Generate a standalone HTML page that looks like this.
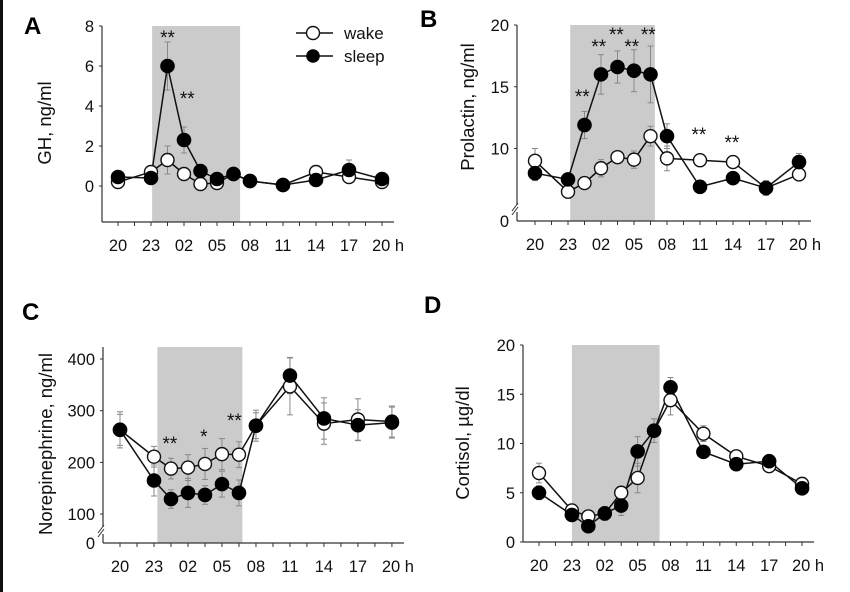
<!DOCTYPE html>
<html><head><meta charset="utf-8"><style>
html,body{margin:0;padding:0;background:#fff;}
svg{display:block;font-family:"Liberation Sans",Arial,sans-serif;}
</style></head><body>
<svg id="fig" width="850" height="592" viewBox="0 0 850 592" xmlns="http://www.w3.org/2000/svg">
<rect x="0" y="0" width="850" height="592" fill="#fff"/>
<rect x="0" y="0" width="3" height="592" fill="#111"/>
</svg>
<script>
const hours=[0,3,4.5,6,7.5,9,10.5,12,15,18,21,24];
const tickHours=[0,3,6,9,12,15,18,21,24];
const tickLabels=['20','23','02','05','08','11','14','17','20 h'];

const ghWake=[0.2,0.7,1.3,0.6,0.1,0.15,0.6,0.25,0.05,0.7,0.45,0.2];
const ghSleep=[0.45,0.4,6.0,2.3,0.75,0.35,0.6,0.25,0.05,0.3,0.8,0.35];
const ghWakeErr=[0.15,0.2,0.7,0.3,0.1,0.1,0.3,0.15,0.1,0.2,0.2,0.1];
const ghSleepErr=[0.2,0.2,1.2,0.65,0.2,0.15,0.3,0.15,0.1,0.2,0.5,0.15];
const ghTicks=[0,2,4,6,8];

const prlWake=[9.0,6.5,7.2,8.4,9.3,9.1,11.0,9.2,9.05,8.9,6.8,7.9];
const prlSleep=[8.0,7.5,11.9,16.0,16.6,16.3,16.0,11.0,6.9,7.6,6.8,8.9];
const prlWakeErr=[1.0,0.4,0.4,0.7,0.5,0.7,0.8,1.0,0.5,0.5,0.4,0.5];
const prlSleepErr=[0.6,0.3,1.1,1.6,1.3,1.7,2.3,1.0,0.3,0.5,0.6,0.7];
const prlTicks=[10,15,20];

const neWake=[263,211,188,190,197,216,215,271,347,275,283,279];
const neSleep=[263,165,129,141,137,158,141,271,368,285,272,277];
const neWakeErr=[30,20,20,25,30,30,25,25,55,40,40,30];
const neSleepErr=[35,30,18,28,18,25,25,30,35,40,30,30];
const neTicks=[100,200,300,400];

const corWake=[7.0,3.2,2.6,2.9,5.0,6.5,11.3,14.4,11.0,8.7,7.7,5.9];
const corSleep=[5.0,2.75,1.6,2.9,3.7,9.2,11.3,15.7,9.15,7.9,8.2,5.45];
const corWakeErr=[1.0,0.4,0.4,0.5,0.6,1.5,1.2,1.5,0.8,0.6,0.5,0.4];
const corSleepErr=[0.7,0.4,0.3,0.7,1.0,1.5,1.2,1.0,0.4,0.6,0.5,0.4];
const corTicks=[0,5,10,15,20];

const NS='http://www.w3.org/2000/svg';
const svg=document.getElementById('fig');
function mk(tag,attrs,parent,text){const e=document.createElementNS(NS,tag);for(const k in attrs)e.setAttribute(k,attrs[k]);if(text!==undefined)e.textContent=text;(parent||svg).appendChild(e);return e;}

function panel(cfg){
  const g=mk('g',{});
  
  
  const X=h=>cfg.x0+h*cfg.ppx;
  const Y=v=>cfg.vTopPx+(cfg.vmax-v)*cfg.k;
  const sh=mk('rect',{x:X(cfg.shade[0]),y:cfg.top,width:X(cfg.shade[1])-X(cfg.shade[0]),height:cfg.bottom-cfg.top,fill:'#cbcbcb'},g);
  
  
  const ya=mk('line',{x1:cfg.ax,y1:cfg.top,x2:cfg.ax,y2:cfg.bottom,stroke:'#333','stroke-width':1.2},g);
  
  
  const xa=mk('line',{x1:cfg.ax,y1:cfg.bottom,x2:X(24)+12,y2:cfg.bottom,stroke:'#333','stroke-width':1.2},g);
  
  
  for(let h=0;h<=24.01;h+=1.5){mk('line',{x1:X(h),y1:cfg.bottom,x2:X(h),y2:cfg.bottom+4,stroke:'#333','stroke-width':1},g);}
  tickHours.forEach((h,i)=>{
    const t=mk('text',{x:X(h)+(i===tickLabels.length-1?6:0),y:cfg.bottom+29,'font-size':16.5,'text-anchor':'middle',fill:'#111'},g,tickLabels[i]);
    
    
  });
  cfg.ticks.forEach(v=>{
    mk('line',{x1:cfg.ax-3,y1:Y(v),x2:cfg.ax,y2:Y(v),stroke:'#333'},g);
    const t=mk('text',{x:cfg.ax-8,y:Y(v)+6,'font-size':16.5,'text-anchor':'end',fill:'#111'},g,String(v));
    
    
  });
  if(cfg.broken){
    const t=mk('text',{x:cfg.ax-8,y:cfg.bottom+6,'font-size':16.5,'text-anchor':'end',fill:'#111'},g,'0');
    
    
    mk('rect',{x:cfg.ax-4,y:cfg.bottom-16,width:8,height:7,fill:'#fff'},g);
    mk('line',{x1:cfg.ax-5,y1:cfg.bottom-10,x2:cfg.ax+1,y2:cfg.bottom-18,stroke:'#333'},g);
    mk('line',{x1:cfg.ax-5,y1:cfg.bottom-6,x2:cfg.ax+1,y2:cfg.bottom-14,stroke:'#333'},g);
  }
  const yl=mk('text',{x:cfg.ylx,y:cfg.yly,'font-size':18.5,'text-anchor':'middle',fill:'#111',transform:`rotate(-90 ${cfg.ylx} ${cfg.yly})`},g,cfg.ylabel);
  
  
  const pl=mk('text',{x:cfg.lx,y:cfg.ly,'font-size':24,'font-weight':'bold',fill:'#000'},g,cfg.letter);
  
  
  [[cfg.wake,cfg.wakeErr],[cfg.sleep,cfg.sleepErr]].forEach(([vals,errs])=>{
    vals.forEach((v,i)=>{
      const x=X(hours[i]),y1=Y(v+errs[i]),y2=Y(v-errs[i]);
      mk('line',{x1:x,y1:y1,x2:x,y2:y2,stroke:'#888','stroke-width':1},g);
      mk('line',{x1:x-3,y1:y1,x2:x+3,y2:y1,stroke:'#888','stroke-width':1},g);
      mk('line',{x1:x-3,y1:y2,x2:x+3,y2:y2,stroke:'#888','stroke-width':1},g);
    });
  });
  const wl=mk('polyline',{points:cfg.wake.map((v,i)=>X(hours[i])+','+Y(v)).join(' '),fill:'none',stroke:'#111','stroke-width':1.5},g);
  
  
  const sl=mk('polyline',{points:cfg.sleep.map((v,i)=>X(hours[i])+','+Y(v)).join(' '),fill:'none',stroke:'#111','stroke-width':1.5},g);
  
  
  cfg.wake.forEach((v,i)=>{
    const c=mk('circle',{cx:X(hours[i]),cy:Y(v),r:6.5,fill:'#fff',stroke:'#111','stroke-width':1.4},g);
    
    
  });
  cfg.sleep.forEach((v,i)=>{
    const c=mk('circle',{cx:X(hours[i]),cy:Y(v),r:6.8,fill:'#000',stroke:'#000','stroke-width':1},g);
    
    
  });
  (cfg.stars||[]).forEach(s=>{
    const t=mk('text',{x:X(s[0]),y:s[1],'font-size':19,'text-anchor':'middle',fill:'#111'},g,s[2]);
    
    
  });
}

panel({name:'panel-a-gh',letter:'A',lx:24,ly:34,x0:118,ppx:11,ax:102,top:26,bottom:222,vmax:8,vTopPx:26,k:20,
  ticks:ghTicks,shade:[3.1,11.1],ylabel:'GH, ng/ml',ylx:51,yly:123,
  wake:ghWake,sleep:ghSleep,wakeErr:ghWakeErr,sleepErr:ghSleepErr,
  stars:[[4.5,44,'**'],[6.3,105,'**']]});
panel({name:'panel-b-prolactin',letter:'B',lx:420,ly:27,x0:535,ppx:11.0,ax:517,top:25,bottom:221,vmax:20,vTopPx:25,k:12.35,
  ticks:prlTicks,broken:true,shade:[3.2,10.9],ylabel:'Prolactin, ng/ml',ylx:474,yly:107,
  wake:prlWake,sleep:prlSleep,wakeErr:prlWakeErr,sleepErr:prlSleepErr,
  stars:[[4.3,103,'**'],[5.8,53,'**'],[7.4,41,'**'],[8.8,53,'**'],[10.3,41,'**'],[14.9,141,'**'],[17.9,149,'**']]});
panel({name:'panel-c-norepinephrine',letter:'C',lx:22,ly:320,x0:120,ppx:11.33,ax:103,top:347,bottom:543,vmax:400,vTopPx:359,k:0.517,
  ticks:neTicks,broken:true,shade:[3.3,10.8],ylabel:'Norepinephrine, ng/ml',ylx:52,yly:444,
  wake:neWake,sleep:neSleep,wakeErr:neWakeErr,sleepErr:neSleepErr,
  stars:[[4.4,450,'**'],[7.4,443,'*'],[10.1,427,'**']]});
panel({name:'panel-d-cortisol',letter:'D',lx:424,ly:313,x0:539,ppx:10.96,ax:523,top:345,bottom:542,vmax:20,vTopPx:345,k:9.85,
  ticks:corTicks,shade:[3.0,11.0],ylabel:'Cortisol, \u00b5g/dl',ylx:469,yly:443,
  wake:corWake,sleep:corSleep,wakeErr:corWakeErr,sleepErr:corSleepErr,stars:[]});

const lg=mk('g',{});


mk('line',{x1:296,y1:33,x2:333,y2:33,stroke:'#111','stroke-width':1.4},lg);
mk('circle',{cx:313,cy:33,r:6.5,fill:'#fff',stroke:'#111','stroke-width':1.4},lg);
const lw=mk('text',{x:344,y:39,'font-size':17,fill:'#111'},lg,'wake');


mk('line',{x1:296,y1:56,x2:333,y2:56,stroke:'#111','stroke-width':1.4},lg);
mk('circle',{cx:313,cy:56,r:6.8,fill:'#000'},lg);
const ls=mk('text',{x:344,y:62,'font-size':17,fill:'#111'},lg,'sleep');


</script>
</body></html>
